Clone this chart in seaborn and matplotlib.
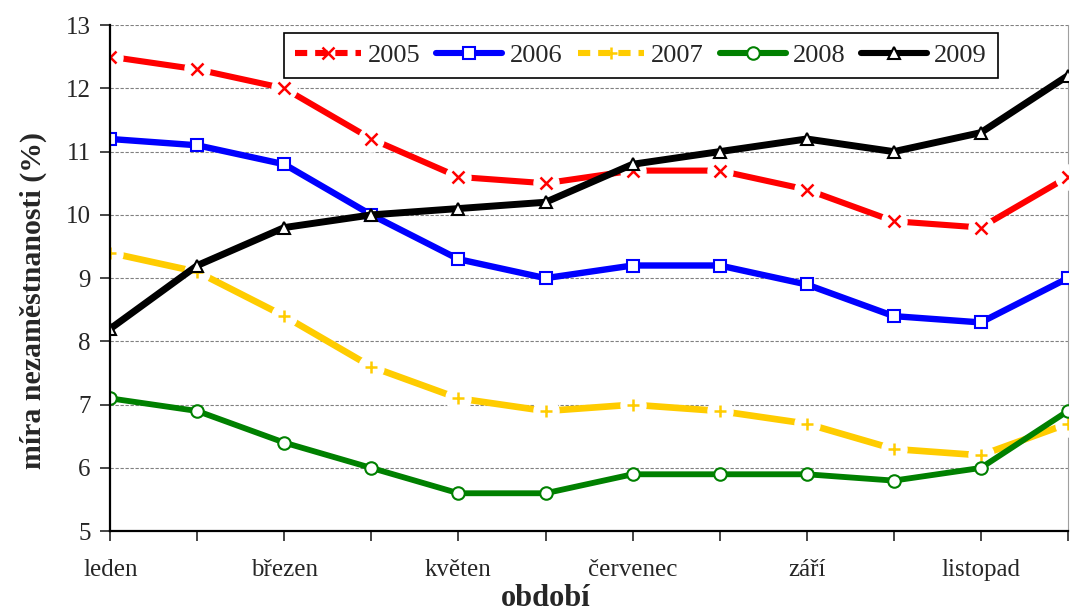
import pandas as pd
import matplotlib.pyplot as plt
import seaborn as sns
from matplotlib.lines import Line2D

# mesice a hodnoty miry nezamestnanosti (%)
mesice = ['leden', 'únor', 'březen', 'duben', 'květen', 'červen',
          'červenec', 'srpen', 'září', 'říjen', 'listopad', 'prosinec']
r2005 = [12.5, 12.3, 12.0, 11.2, 10.6, 10.5, 10.7, 10.7, 10.4, 9.9, 9.8, 10.6]
r2006 = [11.2, 11.1, 10.8, 10.0, 9.3, 9.0, 9.2, 9.2, 8.9, 8.4, 8.3, 9.0]
r2007 = [9.4, 9.1, 8.4, 7.6, 7.1, 6.9, 7.0, 6.9, 6.7, 6.3, 6.2, 6.7]
r2008 = [7.1, 6.9, 6.4, 6.0, 5.6, 5.6, 5.9, 5.9, 5.9, 5.8, 6.0, 6.9]
r2009 = [8.2, 9.2, 9.8, 10.0, 10.1, 10.2, 10.8, 11.0, 11.2, 11.0, 11.3, 12.2]
roky = ['2005', '2006', '2007', '2008', '2009']
barvy = ['#ff0000', '#0000ff', '#ffcc00', '#008000', '#000000']
znacky = ['x', 's', '+', 'o', '^']

rows = []
for rok, hodnoty in zip(roky, [r2005, r2006, r2007, r2008, r2009]):
    for i, v in enumerate(hodnoty):
        rows.append({'mesic': i, 'rok': rok, 'hodnota': v})
df = pd.DataFrame(rows)

sns.set_style('white')
plt.rcParams['font.family'] = ['Liberation Serif', 'DejaVu Serif']

fig = plt.figure(figsize=(10.7, 6.12), dpi=100)
ax = fig.add_axes([0.103, 0.132, 0.895, 0.827])

sirky = {'2005': 4.4, '2006': 4.6, '2007': 4.8, '2008': 4.2, '2009': 5.0}
for k, (rok, barva, zn) in enumerate(zip(roky, barvy, znacky)):
    d = df[df['rok'] == rok]
    sns.lineplot(data=d, x='mesic', y='hodnota', color=barva,
                 linewidth=sirky[rok], ax=ax, legend=False)
    ax.get_lines()[-1].set_zorder(3 + k * 0.1)
    if zn in ('x', '+'):
        # bila mezera kolem znacky jako v Excelu
        ax.plot(d['mesic'], d['hodnota'], linestyle='none', marker='o',
                ms=18, mfc='white', mec='white', zorder=3.05 + k * 0.1)
        ax.plot(d['mesic'], d['hodnota'], linestyle='none', marker=zn,
                ms=8.5, mew=1.8, color=barva, zorder=3.06 + k * 0.1)
    else:
        ax.plot(d['mesic'], d['hodnota'], linestyle='none', marker=zn,
                ms=9, mew=1.5, mfc='white', mec=barva, zorder=3.06 + k * 0.1)

ax.set_xlim(0, 11)
ax.set_ylim(5, 13)
ax.set_xticks(range(12))
ax.set_xticklabels([m if i % 2 == 0 else '' for i, m in enumerate(mesice)], fontsize=18)
ax.set_yticks(range(5, 14))
ax.tick_params(axis='y', labelsize=18, direction='out', length=7, width=1.2, left=True, pad=7)
ax.tick_params(axis='x', direction='out', length=7, width=1.2, bottom=True, pad=13)
ax.yaxis.grid(True, color='#808080', linestyle=(0, (3, 1.5)), linewidth=0.8)
ax.xaxis.grid(False)
for s in ['left', 'bottom']:
    ax.spines[s].set_color('black')
    ax.spines[s].set_linewidth(1.6)
    ax.spines[s].set_zorder(6)
ax.spines['top'].set_visible(False)
ax.spines['right'].set_color('#a0a0a0')
ax.spines['right'].set_linewidth(0.8)

ax.set_xlabel('období', fontsize=22, fontweight='bold')
ax.xaxis.set_label_coords(0.455, -0.105)
ax.set_ylabel('míra nezaměstnanosti (%)', fontsize=21.5, fontweight='bold')
ax.yaxis.set_label_coords(-0.066, 0.456)

handles = []
for rok, barva, zn in zip(roky, barvy, znacky):
    if zn in ('x', '+'):
        h = Line2D([], [], color=barva, linewidth=4.4, linestyle=(0, (2.0, 1.3)),
                   marker=zn, ms=8.5, mew=1.8)
    else:
        h = Line2D([], [], color=barva, linewidth=4.4, marker=zn, ms=9, mew=1.5,
                   mfc='white', mec=barva)
    handles.append(h)
leg = ax.legend(handles, roky, loc='upper center', bbox_to_anchor=(0.599, 0.946),
                bbox_transform=fig.transFigure, ncol=5, fontsize=19, frameon=True,
                fancybox=False, edgecolor='black', framealpha=1, handlelength=2.5,
                columnspacing=0.6, handletextpad=0.27, borderpad=0.4,
                borderaxespad=0)
leg.get_frame().set_linewidth(1.2)
leg.set_zorder(10)

fig.savefig('out.png', dpi=100)
